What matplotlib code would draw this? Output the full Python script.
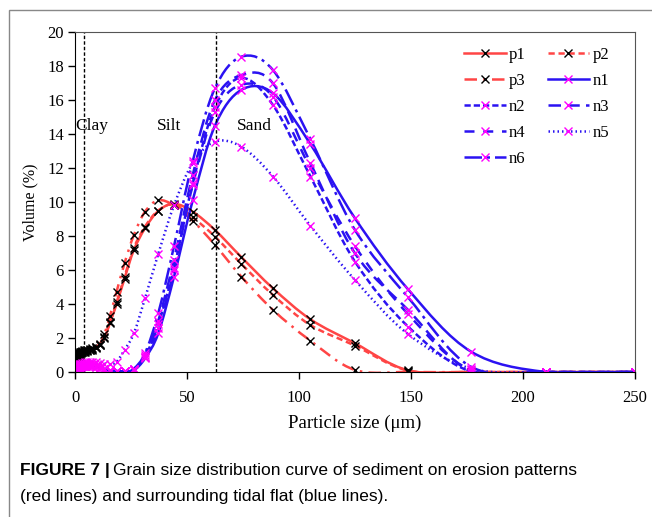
import numpy as np
import matplotlib.pyplot as plt
from matplotlib import font_manager
from matplotlib.path import Path
from matplotlib.patches import PathPatch, Rectangle
from matplotlib.lines import Line2D

# particle size classes (um)
sizes = [0.35, 0.41, 0.49, 0.58, 0.69, 0.82, 0.98, 1.16, 1.38, 1.64, 1.95, 2.32,
         2.76, 3.28, 3.91, 4.65, 5.52, 6.57, 7.81, 9.29, 11.05, 13.14, 15.63,
         18.58, 22.10, 26.28, 31.25, 37.16, 44.19, 52.56, 62.50, 74.33, 88.39,
         105.1, 125.0, 148.7, 176.8, 210.2, 250.0]

# volume (%) - erosion patterns
p1 = [0.55, 0.6, 0.65, 0.7, 0.75, 0.8, 0.85, 0.9, 0.95, 1.0, 1.05, 1.1,
      1.15, 1.2, 1.22, 1.25, 1.27, 1.3, 1.35, 1.45, 1.6, 2.0, 2.9,
      4.0, 5.5, 7.18, 8.45, 9.47, 9.9, 9.43, 8.35, 6.75, 4.92,
      3.1, 1.69, 0.1, 0.0, 0.0, 0.0]
p2 = [0.5, 0.55, 0.6, 0.65, 0.7, 0.75, 0.8, 0.85, 0.9, 0.95, 1.0, 1.05,
      1.1, 1.15, 1.18, 1.2, 1.23, 1.27, 1.32, 1.42, 1.58, 2.05, 2.95,
      4.1, 5.6, 7.3, 8.55, 9.5, 9.85, 9.1, 7.96, 6.35, 4.53,
      2.76, 1.55, 0.08, 0.0, 0.0, 0.0]
p3 = [0.6, 0.65, 0.7, 0.75, 0.8, 0.85, 0.9, 0.95, 1.0, 1.05, 1.1, 1.15,
      1.2, 1.25, 1.28, 1.3, 1.32, 1.35, 1.4, 1.5, 1.65, 2.23, 3.31,
      4.73, 6.39, 8.06, 9.43, 10.1, 9.8, 8.9, 7.47, 5.6, 3.65,
      1.84, 0.12, 0.0, 0.0, 0.0, 0.0]

# volume (%) - surrounding tidal flat
n1 = [0.1, 0.12, 0.15, 0.18, 0.2, 0.22, 0.24, 0.26, 0.28, 0.3, 0.32, 0.33,
      0.34, 0.35, 0.36, 0.37, 0.38, 0.38, 0.36, 0.32, 0.25, 0.15, 0.08,
      0.04, 0.03, 0.1, 0.8, 2.27, 5.6, 10.1, 14.5, 16.6, 16.4,
      13.4, 9.04, 4.86, 1.2, 0.0, 0.0]
n2 = [0.08, 0.1, 0.12, 0.15, 0.18, 0.2, 0.22, 0.24, 0.26, 0.28, 0.3, 0.31,
      0.32, 0.33, 0.34, 0.35, 0.36, 0.36, 0.34, 0.3, 0.23, 0.14, 0.07,
      0.04, 0.03, 0.15, 0.9, 2.8, 6.1, 11.1, 15.6, 17.3, 15.7,
      11.5, 6.49, 2.67, 0.02, 0.0, 0.0]
n3 = [0.12, 0.14, 0.17, 0.2, 0.23, 0.26, 0.28, 0.3, 0.32, 0.34, 0.36, 0.37,
      0.38, 0.4, 0.41, 0.42, 0.43, 0.43, 0.41, 0.36, 0.28, 0.17, 0.09,
      0.05, 0.04, 0.15, 1.0, 3.0, 6.6, 11.6, 16.0, 17.47, 16.98,
      12.3, 6.98, 3.65, 0.02, 0.0, 0.0]
n4 = [0.1, 0.12, 0.14, 0.17, 0.2, 0.23, 0.25, 0.27, 0.29, 0.31, 0.33, 0.34,
      0.35, 0.36, 0.37, 0.38, 0.39, 0.39, 0.37, 0.33, 0.26, 0.16, 0.08,
      0.05, 0.04, 0.12, 0.9, 2.6, 6.0, 11.0, 15.3, 16.9, 16.2,
      12.0, 7.4, 3.4, 0.1, 0.0, 0.0]
n5 = [0.2, 0.23, 0.26, 0.3, 0.33, 0.36, 0.38, 0.4, 0.42, 0.44, 0.46, 0.48,
      0.5, 0.52, 0.54, 0.56, 0.58, 0.6, 0.6, 0.58, 0.55, 0.5, 0.45,
      0.6, 1.3, 2.27, 4.33, 6.94, 9.8, 12.3, 13.55, 13.25, 11.5,
      8.6, 5.41, 2.23, 0.2, 0.0, 0.0]
n6 = [0.15, 0.17, 0.2, 0.23, 0.26, 0.29, 0.31, 0.33, 0.35, 0.37, 0.39, 0.4,
      0.41, 0.42, 0.43, 0.44, 0.45, 0.45, 0.43, 0.38, 0.3, 0.18, 0.1,
      0.06, 0.05, 0.2, 1.1, 3.45, 7.4, 12.4, 16.7, 18.55, 17.76,
      13.7, 8.35, 4.39, 0.31, 0.0, 0.0]

names = ['p1', 'p2', 'p3', 'n1', 'n2', 'n3', 'n4', 'n5', 'n6']
series = [p1, p2, p3, n1, n2, n3, n4, n5, n6]

zone_edges = [4, 63]
zone_labels = ['Clay', 'Silt', 'Sand']
zone_label_x = [0, 42, 80]

RED = '#FF4545'
BLUE = '#2B12F2'
styles = {
    'p1': (RED, '-', 'black'),
    'p2': (RED, (0, (2.5, 1.5)), 'black'),
    'p3': (RED, (0, (5, 2.5, 1, 2.5)), 'black'),
    'n1': (BLUE, '-', 'magenta'),
    'n2': (BLUE, (0, (2.5, 1.2)), 'magenta'),
    'n3': (BLUE, (0, (5, 2.5)), 'magenta'),
    'n4': (BLUE, (0, (4, 3.5)), 'magenta'),
    'n5': (BLUE, (0, (0.6, 1.2)), 'magenta'),
    'n6': (BLUE, (0, (7, 2, 1.2, 2)), 'magenta'),
}


def smooth_path(x, y):
    # Excel "smoothed line": cubic bezier through every point
    pts = np.column_stack([x, y]).astype(float)
    ext = np.vstack([pts[0], pts, pts[-1]])
    verts = [pts[0]]
    codes = [Path.MOVETO]
    for i in range(len(pts) - 1):
        a, b, c, d = ext[i], ext[i + 1], ext[i + 2], ext[i + 3]
        verts += [b + (c - a) / 6, c - (d - b) / 6, c]
        codes += [Path.CURVE4] * 3
    return Path(verts, codes)


serif = 'Liberation Serif'
available = {f.name for f in font_manager.fontManager.ttflist}
cap_font = 'Liberation Sans Narrow' if 'Liberation Sans Narrow' in available else 'Liberation Sans'

fig = plt.figure(figsize=(6.52, 5.17), dpi=100)
ax = fig.add_axes([75 / 652, 1 - 372 / 517, 560 / 652, 340 / 517])

lw = 1.8
for name, vals in zip(names, series):
    col, ls, mcol = styles[name]
    ax.add_patch(PathPatch(smooth_path(sizes, vals), fill=False, edgecolor=col,
                           lw=lw, linestyle=ls, capstyle='butt'))
    ax.plot(sizes, vals, ls='none', marker='x', ms=5.5, mew=1.0, color=mcol)

for xe in zone_edges:
    ax.axvline(xe, color='black', lw=1.0, ls=(0, (2.5, 1.5)), zorder=1)
for lab, xl in zip(zone_labels, zone_label_x):
    ax.text(xl, 14.5, lab, fontsize=12.5, family=serif, va='center',
            ha='left' if lab == 'Clay' else 'center')

ax.set_xlim(0, 250)
ax.set_ylim(0, 20)
ax.set_xticks(np.arange(0, 251, 50))
ax.set_yticks(np.arange(0, 21, 2))
ax.tick_params(direction='out', length=5, width=1, labelsize=12)
ax.tick_params(axis='x', pad=8)
ax.tick_params(axis='y', pad=3)
for lab in ax.get_xticklabels() + ax.get_yticklabels():
    lab.set_family(serif)
ax.set_xlabel('Particle size (μm)', fontsize=13.5, family=serif, labelpad=6)
ax.set_ylabel('Volume (%)', fontsize=11.5, family=serif, labelpad=6)
for side in ['top', 'right']:
    ax.spines[side].set_color('#555555')
for side in ['left', 'bottom']:
    ax.spines[side].set_color('black')

# legend is filled row by row in the original
order = ['p1', 'p3', 'n2', 'n4', 'n6', 'p2', 'n1', 'n3', 'n5']
handles = []
for name in order:
    col, ls, mcol = styles[name]
    handles.append(Line2D([], [], color=col, lw=lw, ls=ls, marker='x', ms=5.5,
                          mew=1.0, markeredgecolor=mcol))
ax.legend(handles, order, ncol=2, loc='upper left', bbox_to_anchor=(0.68, 0.98),
          frameon=False, prop={'family': serif, 'size': 12}, handlelength=2.5,
          handletextpad=0.2, columnspacing=1.3, labelspacing=0.6, numpoints=1,
          borderpad=0)

# outer frame of the figure panel
fig.patches.append(Rectangle((9 / 652, -0.2), 1.2, 1.2 - 10 / 517,
                             transform=fig.transFigure, fill=False,
                             edgecolor='#888888', lw=1.0))

t1 = fig.text(20 / 652, 1 - 471 / 517, 'FIGURE 7 |', fontsize=12.5,
              family=cap_font, weight='bold', va='center')
fig.canvas.draw()
bb = t1.get_window_extent()
fig.text(bb.x1 / 652 + 3 / 652, 1 - 471 / 517,
         'Grain size distribution curve of sediment on erosion patterns',
         fontsize=12.5, family=cap_font, va='center')
fig.text(20 / 652, 1 - 497 / 517,
         '(red lines) and surrounding tidal flat (blue lines).',
         fontsize=12.5, family=cap_font, va='center')

fig.savefig('out.png', dpi=100)
